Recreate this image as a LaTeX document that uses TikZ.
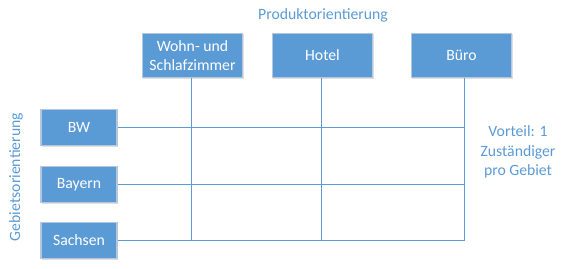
\documentclass[tikz,border=0pt]{standalone}
\usepackage{fontspec}
\setmainfont{Carlito}
\usetikzlibrary{positioning, calc, shadows}
\definecolor{Blau}{HTML}{5B9BD5}
\definecolor{Rand}{HTML}{B4C7DC}
\definecolor{White}{HTML}{FFFFFF}
\tikzset{
    bluebox/.style={rectangle, fill=Blau, draw=Rand, line width=0.8pt, text=White, align=center, font=\fontsize{11.8}{14}\selectfont, inner sep=0pt, drop shadow={shadow xshift=0.6pt, shadow yshift=-0.6pt, opacity=0.25}},
    topbox/.style={bluebox, minimum width=75.5pt, minimum height=33.5pt},
    sidebox/.style={bluebox, minimum width=57pt, minimum height=27.5pt},
    label/.style={text=Blau, align=center, font=\fontsize{11.8}{14.5}\selectfont},
    link/.style={draw=Blau, line width=0.75pt},
}
\begin{document}
\begin{tikzpicture}[x=0.75pt, y=-0.75pt]
                \useasboundingbox (0,0) rectangle (570,268);
                % Produkte
                \node[topbox] (wohn) at (192.5,55.5) {Wohn- und\\Schlafzimmer};
                \node[topbox] (hotel) at (322.5,55.5) {Hotel};
                \node[topbox] (buero) at (461.5,55.5) {Büro};
                \node[label] (prod) at (323,15) {Produktorientierung};
                
                % Gebiete
                \node[sidebox] (bw) at (79,127.5) {BW};
                \node[sidebox] (bayern) at (79,184.5) {Bayern};
                \node[sidebox] (sachsen) at (79,240.5) {Sachsen};
                \node[label, rotate=90] (gebiet) at (16,177) {Gebietsorientierung};
                
                % Raster
                \draw[link] (bw.east) -- (bw.east -| 464,0);
                \draw[link] (bayern.east) -- (bayern.east -| 464,0);
                \draw[link] (sachsen.east) -- (sachsen.east -| 464,0);
                \draw[link] (wohn.south -| 191,0) -- (sachsen.east -| 191,0);
                \draw[link] (hotel.south -| 321,0) -- (sachsen.east -| 321,0);
                \draw[link] (buero.south -| 464,0) -- (sachsen.east -| 464,0);
                
                % Vorteil
                \node[label] (vorteil) at (518,152) {Vorteil: 1\\Zuständiger\\pro Gebiet};
\end{tikzpicture}
\end{document}
